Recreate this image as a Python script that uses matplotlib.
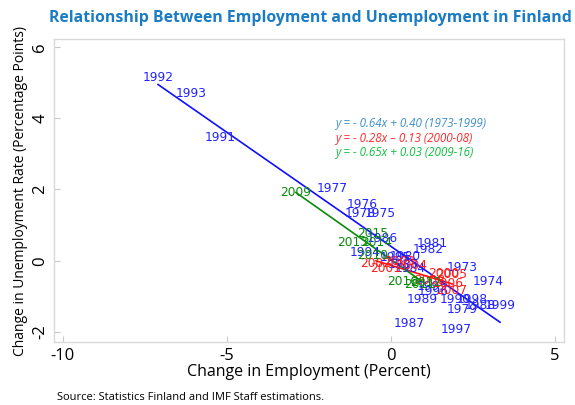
import numpy as np
import matplotlib
matplotlib.use("Agg")
import matplotlib.pyplot as plt

# Data (change in employment %, change in unemployment rate pp)
YEARS_A = [1973, 1974, 1975, 1976, 1977, 1978, 1979, 1980, 1981, 1982, 1983, 1984, 1985, 1986,
           1987, 1988, 1989, 1990, 1991, 1992, 1993, 1994, 1995, 1996, 1997, 1998, 1999]
EMP_A = [2.16, 2.96, -0.34, -0.88, -1.80, -0.95, 2.16, 0.43, 1.25, 1.13, 0.37, 0.58, 0.12, -0.27,
         0.55, 2.71, 0.94, 1.95, -5.21, -7.10, -6.10, -0.79, 1.25, 1.28, 1.98, 2.47, 3.32]
UNE_A = [-0.20, -0.59, 1.32, 1.57, 2.04, 1.32, -1.37, 0.11, 0.48, 0.31, -0.11, -0.22, 0.08, 0.62,
         -1.76, -1.26, -1.09, -1.09, 3.47, 5.13, 4.68, 0.22, -0.73, -0.87, -1.93, -1.09, -1.26]

YEARS_B = [2000, 2001, 2002, 2003, 2004, 2005, 2006, 2007, 2008]
EMP_B = [1.59, -0.18, -0.46, 0.27, 0.64, 1.86, 1.71, 1.86, 1.19]
UNE_B = [-0.36, -0.22, -0.08, -0.03, -0.14, -0.39, -0.64, -0.84, -0.56]

YEARS_C = [2009, 2010, 2011, 2012, 2013, 2014, 2015, 2016]
EMP_C = [-2.90, -0.55, 0.88, 1.04, -1.16, -0.43, -0.55, 0.34]
UNE_C = [1.90, 0.14, -0.67, -0.62, 0.50, 0.50, 0.76, -0.59]

# fitted lines (slope, intercept)
FITS = [(-0.64, 0.40), (-0.28, -0.13), (-0.65, 0.03)]
EQ_TEXT = ["y = - 0.64x + 0.40 (1973-1999)",
           "y = - 0.28x \u2013 0.13 (2000-08)",
           "y = - 0.65x + 0.03 (2009-16)"]

LABEL_COLORS = ["#2222ff", "#ff1a1a", "#0a8a0a"]
LINE_COLORS = ["#1010ff", "#ff1010", "#0a8a0a"]
EQ_COLORS = ["#3d8fc8", "#ff2a2a", "#10c040"]

W, H = 575, 405
fig = plt.figure(figsize=(W / 100, H / 100), dpi=100)
ax = fig.add_axes([54 / W, (H - 342) / H, (564 - 54) / W, (342 - 39) / H])

groups = [(YEARS_A, EMP_A, UNE_A), (YEARS_B, EMP_B, UNE_B), (YEARS_C, EMP_C, UNE_C)]
for (yrs, xs, ys), (m, b), lc, tc in zip(groups, FITS, LINE_COLORS, LABEL_COLORS):
    xx = np.array([min(xs), max(xs)])
    ax.plot(xx, m * xx + b, color=lc, lw=1.2, zorder=2)
    for yr, x, y in zip(yrs, xs, ys):
        ax.text(x, y, str(yr), color=tc, fontsize=8.8, family="DejaVu Sans",
                ha="center", va="center", zorder=3)

for i, (txt, c) in enumerate(zip(EQ_TEXT, EQ_COLORS)):
    ax.text(0.552, 0.72 - i * 0.048, txt, color=c, fontsize=8.4, style="italic",
            family="Open Sans", transform=ax.transAxes, ha="left", va="center")

ax.set_xlim(-10.27, 5.27)
ax.set_ylim(-2.28, 6.22)
ax.set_xticks([-10, -5, 0, 5])
ax.set_yticks([-2, 0, 2, 4, 6])
ax.set_xticklabels(["-10", "-5", "0", "5"])
ax.set_yticklabels(["-2", "0", "2", "4", "6"], rotation=90, va="center")
ax.tick_params(direction="in", length=4, color="#c8c8c8", labelsize=12, pad=4)
for lab in ax.get_xticklabels() + ax.get_yticklabels():
    lab.set_family("Open Sans")
for s in ax.spines.values():
    s.set_color("#d9d9d9")
    s.set_linewidth(1.0)

ax.set_xlabel("Change in Employment (Percent)", fontsize=11.5, family="Open Sans", labelpad=0)
ax.set_ylabel("Change in Unemployment Rate (Percentage Points)", fontsize=10,
              family="Open Sans", labelpad=3)

fig.text(49 / W, 1 - 18 / H, "Relationship Between Employment and Unemployment in Finland",
         color="#1a7cc4", fontsize=11.4, weight="bold", family="Open Sans",
         ha="left", va="center")
fig.text(57 / W, 1 - 398 / H, "Source: Statistics Finland and IMF Staff estimations.",
         fontsize=8, family="Open Sans", ha="left", va="center")

fig.savefig("out.png", dpi=100)
